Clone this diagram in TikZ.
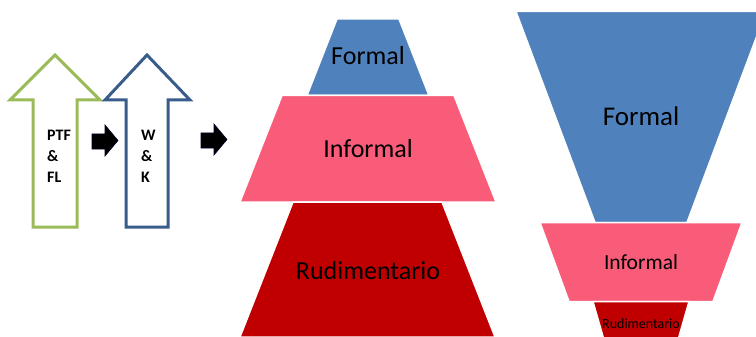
\documentclass[tikz,border=0pt]{standalone}
\usepackage{fontspec}
\setmainfont{Carlito}
\definecolor{arrgreen}{RGB}{155,187,89}
\definecolor{arrblue}{RGB}{56,93,138}
\definecolor{lvlblue}{RGB}{79,129,189}
\definecolor{lvlpink}{RGB}{249,92,121}
\definecolor{lvlred}{RGB}{192,0,0}
\tikzset{
  bigarrow/.style={line width=3pt, fill=white, line join=miter},
  smallarrow/.style={fill=black, draw=black!85!blue, line width=0.6pt, line join=miter},
  level/.style={draw=white, line width=1.5pt, line join=miter},
  lbl/.style={inner sep=0pt, anchor=center},
  arrtext/.style={inner sep=0pt, anchor=north west, align=left, font=\fontsize{16}{20.8}\selectfont\bfseries}
}
\begin{document}
\begin{tikzpicture}[x=1pt,y=-1pt]
\useasboundingbox (0,0) rectangle (756,337);
\clip (0,0) rectangle (756,337);
% big outlined arrows
\draw[bigarrow, draw=arrgreen] (55,55) -- (100,100) -- (77,100) -- (77,227) -- (33,227) -- (33,100) -- (10,100) -- cycle;
\draw[bigarrow, draw=arrblue] (147,55) -- (190,100) -- (168,100) -- (168,227) -- (126,227) -- (126,100) -- (105,100) -- cycle;
\node[arrtext] (ptf) at (47,130) {PTF\\\&\\FL};
\node[arrtext] (wk) at (141,130) {W\\\&\\K};
% small black arrows
\draw[smallarrow] (92,134) -- (105,134) -- (105,125) -- (118,140.5) -- (105,156) -- (105,149) -- (92,149) -- cycle;
\draw[smallarrow] (201,133) -- (214,133) -- (214,124) -- (227,139.5) -- (214,155) -- (214,148) -- (201,148) -- cycle;
% pyramid
\filldraw[level, fill=lvlblue] (337,19) -- (399,19) -- (429,95.5) -- (307,95.5) -- cycle;
\filldraw[level, fill=lvlpink] (282,95.5) -- (454,95.5) -- (496,202) -- (240,202) -- cycle;
\filldraw[level, fill=lvlred] (293,202) -- (442,202) -- (495,337) -- (240,337) -- cycle;
\node[lbl, font=\fontsize{26}{30}\selectfont] (pf) at (368,56) {Formal};
\node[lbl, font=\fontsize{26}{30}\selectfont] (pi) at (368,149) {Informal};
\node[lbl, font=\fontsize{26}{30}\selectfont] (pr) at (368,271) {Rudimentario};
% funnel
\filldraw[level, fill=lvlblue] (516,11.5) -- (766,11.5) -- (687,222.5) -- (595,222.5) -- cycle;
\filldraw[level, fill=lvlpink] (540,222.5) -- (742,222.5) -- (713,301.5) -- (569,301.5) -- cycle;
\filldraw[level, fill=lvlred] (593,301.5) -- (689,301.5) -- (678,340) -- (604,340) -- cycle;
\node[lbl, font=\fontsize{27}{31}\selectfont] (ff) at (641,116) {Formal};
\node[lbl, font=\fontsize{21.5}{25}\selectfont] (fi) at (641,262) {Informal};
\node[lbl, font=\fontsize{14}{16}\selectfont] (fr) at (641,323.5) {Rudimentario};
\end{tikzpicture}
\end{document}
